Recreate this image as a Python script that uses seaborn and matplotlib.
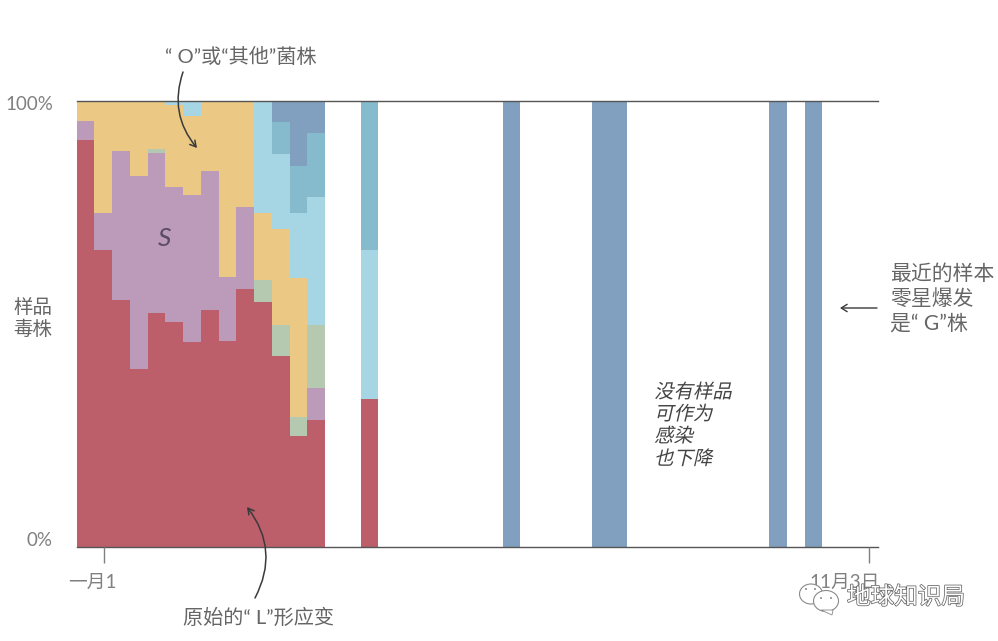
import matplotlib
matplotlib.use("Agg")
import matplotlib.pyplot as plt
from matplotlib.patches import Ellipse, Polygon, Circle
from matplotlib.patheffects import AbstractPathEffect, withStroke
from matplotlib.transforms import Affine2D, ScaledTranslation
import pandas as pd
import seaborn as sns

weeks = [0, 1, 2, 3, 4, 5, 6, 7, 8, 9, 10, 11, 12, 13, 16, 24, 29, 30, 39, 41]
strain_l = [91.3, 66.6, 55.4, 39.9, 52.5, 50.5, 46.0, 53.1, 46.3, 57.8, 54.9, 42.8, 24.9, 28.5, 33.2, 0, 0, 0, 0, 0]
strain_s = [4.3, 8.4, 33.4, 43.3, 35.9, 30.2, 32.9, 31.2, 14.3, 18.5, 0, 0, 0, 7.2, 0, 0, 0, 0, 0, 0]
strain_v = [0, 0, 0, 0, 0.9, 0, 0, 0, 0, 0, 5.0, 7.0, 4.2, 14.1, 0, 0, 0, 0, 0, 0]
strain_o = [4.4, 25.0, 11.2, 16.8, 10.4, 18.4, 17.7, 15.7, 39.4, 23.7, 15.0, 21.5, 31.2, 0, 0, 0, 0, 0, 0, 0]
strain_gh = [0, 0, 0, 0, 0.3, 0.9, 3.4, 0, 0, 0, 25.1, 16.8, 14.7, 28.7, 33.4, 0, 0, 0, 0, 0]
strain_gr = [0, 0, 0, 0, 0, 0, 0, 0, 0, 0, 0, 7.2, 10.4, 14.3, 33.4, 0, 0, 0, 0, 0]
strain_g = [0, 0, 0, 0, 0, 0, 0, 0, 0, 0, 0, 4.7, 14.6, 7.2, 0, 100, 100, 100, 100, 100]

strain_names = ["L", "S", "V", "O", "GH", "GR", "G"]
strain_colors = ["#BC5F6A", "#BB9ABA", "#B5C9B0", "#EBC884", "#A6D5E3", "#86BBCE", "#81A0BF"]
x_tick_pos = [1.05, 44.12]
x_tick_labels = ["一月1", "11月3日"]
y_tick_pos = [0, 100]
y_tick_labels = ["0%", "100%"]

series = [strain_l, strain_s, strain_v, strain_o, strain_gh, strain_gr, strain_g]
df = pd.concat(
    [pd.DataFrame({"week": weeks, "share": v, "strain": n}) for n, v in zip(strain_names, series)],
    ignore_index=True,
)

sns.set_theme(style="white")
plt.rcParams["font.family"] = ["Lato", "Noto Sans CJK SC", "DejaVu Sans"]

GREY = "#666666"
fig = plt.figure(figsize=(9.98, 6.41), dpi=100)
ax = fig.add_axes([76.5 / 998, (641 - 547) / 641, 801.5 / 998, 446 / 641])
px = Affine2D().scale(1 / 998, -1 / 641).translate(0, 1) + fig.transFigure


class Skew(AbstractPathEffect):
    def draw_path(self, renderer, gc, tpath, affine, rgbFace=None):
        renderer.draw_path(gc, tpath, Affine2D().skew_deg(13, 0) + affine, rgbFace)


def shift(lbl, dx, dy):
    lbl.set_transform(lbl.get_transform() + ScaledTranslation(dx / 100, -dy / 100, fig.dpi_scale_trans))


sns.histplot(
    data=df, x="week", weights="share", hue="strain",
    hue_order=strain_names[::-1], palette=dict(zip(strain_names, strain_colors)),
    multiple="stack", discrete=True, shrink=1, alpha=1, linewidth=0, legend=False, ax=ax,
)
for p in ax.patches:
    p.set_antialiased(False)

ax.set_xlim(-0.5, 44.63)
ax.set_ylim(0, 100)
ax.set_xlabel("")
ax.set_ylabel("")
ax.set_xticks(x_tick_pos, x_tick_labels, fontsize=13.5, color="#808080", ha="right")
ax.set_yticks(y_tick_pos, y_tick_labels, fontsize=13.5, color="#808080", va="center")
ax.tick_params(axis="x", length=11.5, width=1, color="#808080", pad=5, bottom=True)
ax.tick_params(axis="y", length=0, pad=17, left=False)
shift(ax.get_xticklabels()[0], 13, 4)
shift(ax.get_xticklabels()[1], 11, 4)
shift(ax.get_yticklabels()[0], 0, -7)
shift(ax.get_yticklabels()[1], 0, 3)
ax.set_axisbelow(False)
for s in ["left", "right"]:
    ax.spines[s].set_visible(False)
for s in ["top", "bottom"]:
    ax.spines[s].set_visible(True)
    ax.spines[s].set_color("#555555")
    ax.spines[s].set_linewidth(1)
ax.grid(False)


def label(x, y, s, size=14.5, color=GREY, **kw):
    return fig.text(x, y, s, transform=px, fontsize=size, color=color,
                    va=kw.pop("va", "center"), ha=kw.pop("ha", "center"), **kw)


label(241, 56, "“ O”或“其他”菌株")
label(259, 617, "原始的“ L”形应变")
label(33, 318, "样品\n毒株", linespacing=1.22, size=14)
label(890, 299, "最近的样本\n零星爆发\n是“ G”株", ha="left", linespacing=1.3, size=15)
label(165, 238, "S", size=19, color="#5a4a63", style="italic")
t = label(654, 425, "没有样品\n可作为\n感染\n也下降", ha="left", linespacing=1.25, size=14, color="#444444")
t.set_path_effects([Skew()])

arrow_color = "#3a3a3a"
for tail, tip, rad in [((183, 72), (197, 148), 0.28), ((255, 598), (247, 507), 0.32)]:
    ax.annotate("", xy=tip, xytext=tail, xycoords=px, textcoords=px, annotation_clip=False,
                arrowprops=dict(arrowstyle="->,head_length=0.35,head_width=0.2", lw=1.1, color=arrow_color,
                                connectionstyle=f"arc3,rad={rad}", shrinkA=0, shrinkB=0))
ax.annotate("", xy=(840, 308), xytext=(877, 308), xycoords=px, textcoords=px, annotation_clip=False,
            arrowprops=dict(arrowstyle="->,head_length=0.35,head_width=0.22", lw=1, color=arrow_color,
                            shrinkA=0, shrinkB=0))

# watermark
label(906, 597, "地球知识局", size=17, color="white",
      path_effects=[withStroke(linewidth=1.1, foreground="#666666")])
for xy, w, h in [((811, 594), 23, 20), ((826, 601), 25, 21)]:
    fig.add_artist(Ellipse(xy, w, h, transform=px, facecolor="white", edgecolor="#8a8a8a", lw=0.8))
fig.add_artist(Polygon([(821, 610), (833, 610), (832, 615)], closed=True, transform=px,
                       facecolor="white", edgecolor="#8a8a8a", lw=0.6))
for xy in [(821, 598), (831, 598), (806, 589), (815, 589)]:
    fig.add_artist(Circle(xy, 1.0, transform=px, facecolor="#8a8a8a", edgecolor="none"))

fig.savefig("out.png", dpi=100)
